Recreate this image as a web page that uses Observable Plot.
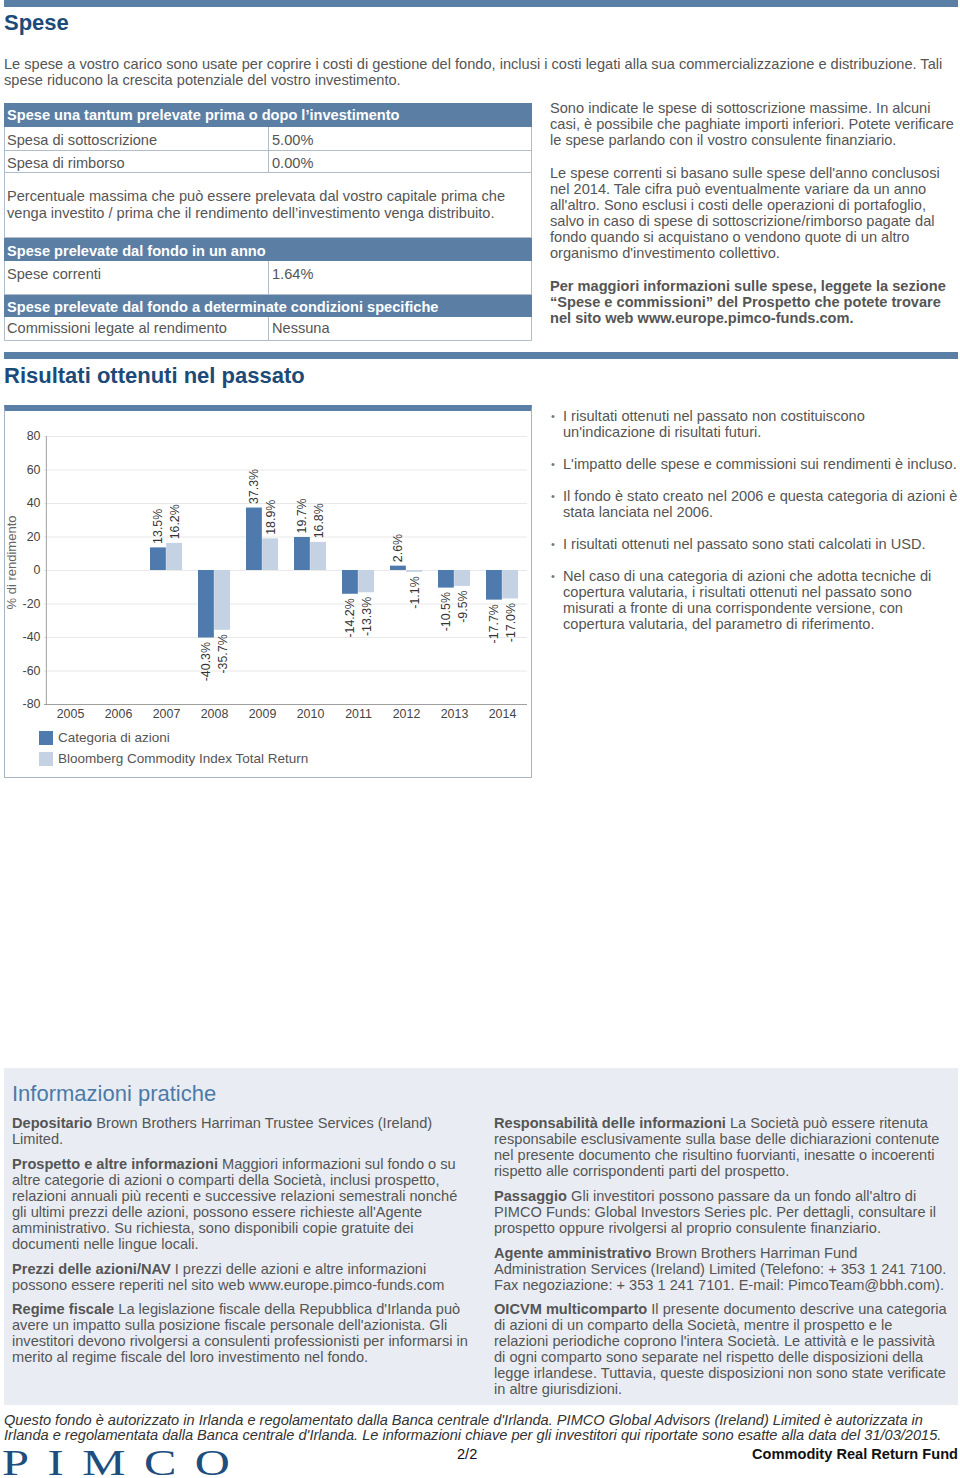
<!DOCTYPE html>
<html><head><meta charset="utf-8">
<script src="https://cdn.jsdelivr.net/npm/d3@7"></script>
<script src="https://cdn.jsdelivr.net/npm/@observablehq/plot@0.6"></script>
<style>
body{margin:0;width:960px;height:1478px;position:relative;background:#fff;font-family:Arial,"Liberation Sans",sans-serif;font-size:14.6px;color:#555;overflow:hidden}
.a{position:absolute;white-space:nowrap;line-height:16px}
.bar{position:absolute;left:4px;width:954px;height:7px;background:#5a7fa6}
.h1{font-size:22px;font-weight:bold;color:#1c4b79;line-height:26px}
.row{position:absolute;left:4px;width:528px;box-sizing:border-box;border:1px solid #b3bdc9;border-top:none;line-height:16px}
.th{background:#5b7ea4;color:#fff;font-weight:bold;border-color:#5b7ea4}
.c1{position:absolute;left:2px;white-space:nowrap}
.c2{position:absolute;left:263px;top:0;bottom:0;border-left:1px solid #b3bdc9;padding-left:3px}
.bul{position:absolute;left:550px;white-space:nowrap;line-height:16px;padding-left:13px}
.bul:before{content:"•";position:absolute;left:1px;top:0;font-size:11px;color:#777}
b{color:#555}
.info{position:absolute;white-space:nowrap;line-height:16px;color:#555}
.info b{color:#555}
</style></head>
<body>
<div class="bar" style="top:0"></div>
<div class="a h1" style="left:4px;top:10px">Spese</div>
<div class="a" style="left:4px;top:56px">Le spese a vostro carico sono usate per coprire i costi di gestione del fondo, inclusi i costi legati alla sua commercializzazione e distribuzione. Tali<br>spese riducono la crescita potenziale del vostro investimento.</div>

<div class="row th" style="top:103px;height:24px"><span class="c1" style="top:4px">Spese una tantum prelevate prima o dopo l’investimento</span></div>
<div class="row" style="top:127px;height:24px"><span class="c1" style="top:5px">Spesa di sottoscrizione</span><span class="c2"><span style="position:relative;top:5px">5.00%</span></span></div>
<div class="row" style="top:151px;height:22px"><span class="c1" style="top:4px">Spesa di rimborso</span><span class="c2"><span style="position:relative;top:4px">0.00%</span></span></div>
<div class="row" style="top:173px;height:65px"><span class="c1" style="top:15px;line-height:17px">Percentuale massima che può essere prelevata dal vostro capitale prima che<br>venga investito / prima che il rendimento dell’investimento venga distribuito.</span></div>
<div class="row th" style="top:238px;height:23px"><span class="c1" style="top:5px">Spese prelevate dal fondo in un anno</span></div>
<div class="row" style="top:261px;height:34px"><span class="c1" style="top:5px">Spese correnti</span><span class="c2"><span style="position:relative;top:5px">1.64%</span></span></div>
<div class="row th" style="top:295px;height:22px"><span class="c1" style="top:4px">Spese prelevate dal fondo a determinate condizioni specifiche</span></div>
<div class="row" style="top:317px;height:24px"><span class="c1" style="top:3px">Commissioni legate al rendimento</span><span class="c2"><span style="position:relative;top:3px">Nessuna</span></span></div>

<div class="a" style="left:550px;top:100px">Sono indicate le spese di sottoscrizione massime. In alcuni<br>casi, è possibile che paghiate importi inferiori. Potete verificare<br>le spese parlando con il vostro consulente finanziario.</div>
<div class="a" style="left:550px;top:165px">Le spese correnti si basano sulle spese dell'anno conclusosi<br>nel 2014. Tale cifra può eventualmente variare da un anno<br>all'altro. Sono esclusi i costi delle operazioni di portafoglio,<br>salvo in caso di spese di sottoscrizione/rimborso pagate dal<br>fondo quando si acquistano o vendono quote di un altro<br>organismo d'investimento collettivo.</div>
<div class="a" style="left:550px;top:278px;font-weight:bold">Per maggiori informazioni sulle spese, leggete la sezione<br>“Spese e commissioni” del Prospetto che potete trovare<br>nel sito web www.europe.pimco-funds.com.</div>

<div class="bar" style="top:352px"></div>
<div class="a h1" style="left:4px;top:363px">Risultati ottenuti nel passato</div>

<div style="position:absolute;left:4px;top:405px;width:528px;height:373px;box-sizing:border-box;border:1px solid #a8b4c4;border-top:6px solid #5a7fa6"></div>
<div id="chart" style="position:absolute;left:4px;top:411px"></div>
<div id="legend"></div>

<div class="bul" style="top:408px">I risultati ottenuti nel passato non costituiscono<br>un'indicazione di risultati futuri.</div>
<div class="bul" style="top:456px">L'impatto delle spese e commissioni sui rendimenti è incluso.</div>
<div class="bul" style="top:488px">Il fondo è stato creato nel 2006 e questa categoria di azioni è<br>stata lanciata nel 2006.</div>
<div class="bul" style="top:536px">I risultati ottenuti nel passato sono stati calcolati in USD.</div>
<div class="bul" style="top:568px">Nel caso di una categoria di azioni che adotta tecniche di<br>copertura valutaria, i risultati ottenuti nel passato sono<br>misurati a fronte di una corrispondente versione, con<br>copertura valutaria, del parametro di riferimento.</div>

<div style="position:absolute;left:4px;top:1068px;width:954px;height:337px;background:#e9edf3"></div>
<div class="a" style="left:12px;top:1081px;font-size:22px;line-height:26px;color:#4c7aa8">Informazioni pratiche</div>
<div class="info" style="left:12px;top:1115px"><b>Depositario</b> Brown Brothers Harriman Trustee Services (Ireland)<br>Limited.</div>
<div class="info" style="left:12px;top:1156px"><b>Prospetto e altre informazioni</b> Maggiori informazioni sul fondo o su<br>altre categorie di azioni o comparti della Società, inclusi prospetto,<br>relazioni annuali più recenti e successive relazioni semestrali nonché<br>gli ultimi prezzi delle azioni, possono essere richieste all'Agente<br>amministrativo. Su richiesta, sono disponibili copie gratuite dei<br>documenti nelle lingue locali.</div>
<div class="info" style="left:12px;top:1261px"><b>Prezzi delle azioni/NAV</b> I prezzi delle azioni e altre informazioni<br>possono essere reperiti nel sito web www.europe.pimco-funds.com</div>
<div class="info" style="left:12px;top:1301px"><b>Regime fiscale</b> La legislazione fiscale della Repubblica d'Irlanda può<br>avere un impatto sulla posizione fiscale personale dell'azionista. Gli<br>investitori devono rivolgersi a consulenti professionisti per informarsi in<br>merito al regime fiscale del loro investimento nel fondo.</div>

<div class="info" style="left:494px;top:1115px"><b>Responsabilità delle informazioni</b> La Società può essere ritenuta<br>responsabile esclusivamente sulla base delle dichiarazioni contenute<br>nel presente documento che risultino fuorvianti, inesatte o incoerenti<br>rispetto alle corrispondenti parti del prospetto.</div>
<div class="info" style="left:494px;top:1188px"><b>Passaggio</b> Gli investitori possono passare da un fondo all'altro di<br>PIMCO Funds: Global Investors Series plc. Per dettagli, consultare il<br>prospetto oppure rivolgersi al proprio consulente finanziario.</div>
<div class="info" style="left:494px;top:1245px"><b>Agente amministrativo</b> Brown Brothers Harriman Fund<br>Administration Services (Ireland) Limited (Telefono: + 353 1 241 7100.<br>Fax negoziazione: + 353 1 241 7101. E-mail: PimcoTeam@bbh.com).</div>
<div class="info" style="left:494px;top:1301px"><b>OICVM multicomparto</b> Il presente documento descrive una categoria<br>di azioni di un comparto della Società, mentre il prospetto e le<br>relazioni periodiche coprono l'intera Società. Le attività e le passività<br>di ogni comparto sono separate nel rispetto delle disposizioni della<br>legge irlandese. Tuttavia, queste disposizioni non sono state verificate<br>in altre giurisdizioni.</div>

<div class="a" style="left:4px;top:1413px;line-height:15px;font-style:italic;color:#333">Questo fondo è autorizzato in Irlanda e regolamentato dalla Banca centrale d'Irlanda. PIMCO Global Advisors (Ireland) Limited è autorizzata in<br>Irlanda e regolamentata dalla Banca centrale d'Irlanda. Le informazioni chiave per gli investitori qui riportate sono esatte alla data del 31/03/2015.</div>
<div class="a" style="left:2px;top:1448px;height:30px;font-family:'Liberation Serif','DejaVu Serif',serif;font-size:36px;line-height:30px;letter-spacing:13.7px;color:#1d4e7e;transform:scaleX(1.35);transform-origin:0 0">PIMCO</div>
<div class="a" style="left:457px;top:1446px;color:#111">2/2</div>
<div class="a" style="right:2px;top:1446px;color:#111;font-weight:bold">Commodity Real Return Fund</div>

<script>
const years = ["2005","2006","2007","2008","2009","2010","2011","2012","2013","2014"];
const fundReturns = [null, null, 13.5, -40.3, 37.3, 19.7, -14.2, 2.6, -10.5, -17.7];
const benchReturns = [null, null, 16.2, -35.7, 18.9, 16.8, -13.3, -1.1, -9.5, -17.0];
const seriesNames = ["Categoria di azioni", "Bloomberg Commodity Index Total Return"];
const seriesColors = ["#4f7aae", "#c5d2e4"];
const yTicks = [-80, -60, -40, -20, 0, 20, 40, 60, 80];
const yLabel = "% di rendimento";

const fundRows = years.map((y, i) => ({year: y, value: fundReturns[i]})).filter(d => d.value != null);
const benchRows = years.map((y, i) => ({year: y, value: benchReturns[i]})).filter(d => d.value != null);
const fmt = d => d.value.toFixed(1) + "%";
const half = 24.15, outer = 8;

const labelMarks = (rows, dx) => [
  Plot.text(rows.filter(d => d.value >= 0), {x: "year", y: "value", text: fmt, rotate: -90, textAnchor: "start", dx, dy: -4, fill: "#333"}),
  Plot.text(rows.filter(d => d.value < 0), {x: "year", y: "value", text: fmt, rotate: -90, textAnchor: "end", dx, dy: 4, fill: "#333"})
];

const chart = Plot.plot({
  width: 527, height: 313,
  marginTop: 25, marginBottom: 20, marginLeft: 40, marginRight: 4,
  style: {fontFamily: "Arial, 'Liberation Sans', sans-serif", fontSize: "12.4px", color: "#444", background: "transparent"},
  x: {domain: years, padding: 0, tickSize: 0, tickPadding: 5, label: null},
  y: {domain: [-80, 80], ticks: yTicks, tickSize: 0, tickPadding: 4, label: null, tickFormat: d => String(d)},
  marks: [
    Plot.ruleY(yTicks, {stroke: "#e8e8e8"}),
    Plot.barY(fundRows, {x: "year", y: "value", fill: seriesColors[0], insetLeft: outer, insetRight: half}),
    Plot.barY(benchRows, {x: "year", y: "value", fill: seriesColors[1], insetLeft: half, insetRight: outer}),
    Plot.ruleY([-80], {stroke: "#a0a0a0"}),
    Plot.ruleX([years[0]], {dx: -half, stroke: "#a0a0a0"}),
    ...labelMarks(fundRows, -(half - outer) / 2),
    ...labelMarks(benchRows, (half - outer) / 2),
    Plot.text([yLabel], {text: d => d, frameAnchor: "left", textAnchor: "middle", rotate: -90, dx: -33, dy: -8, fill: "#666", fontSize: 13})
  ]
});
document.getElementById("chart").appendChild(chart);

const legend = document.getElementById("legend");
seriesNames.forEach((name, i) => {
  const top = 731 + i * 21;
  const sw = document.createElement("div");
  sw.style.cssText = `position:absolute;left:39px;top:${top}px;width:14px;height:14px;background:${seriesColors[i]}`;
  const tx = document.createElement("div");
  tx.className = "a";
  tx.style.cssText = `left:58px;top:${top - 1}px;font-size:13.5px;color:#555`;
  tx.textContent = name;
  legend.appendChild(sw); legend.appendChild(tx);
});
</script>
</body></html>
